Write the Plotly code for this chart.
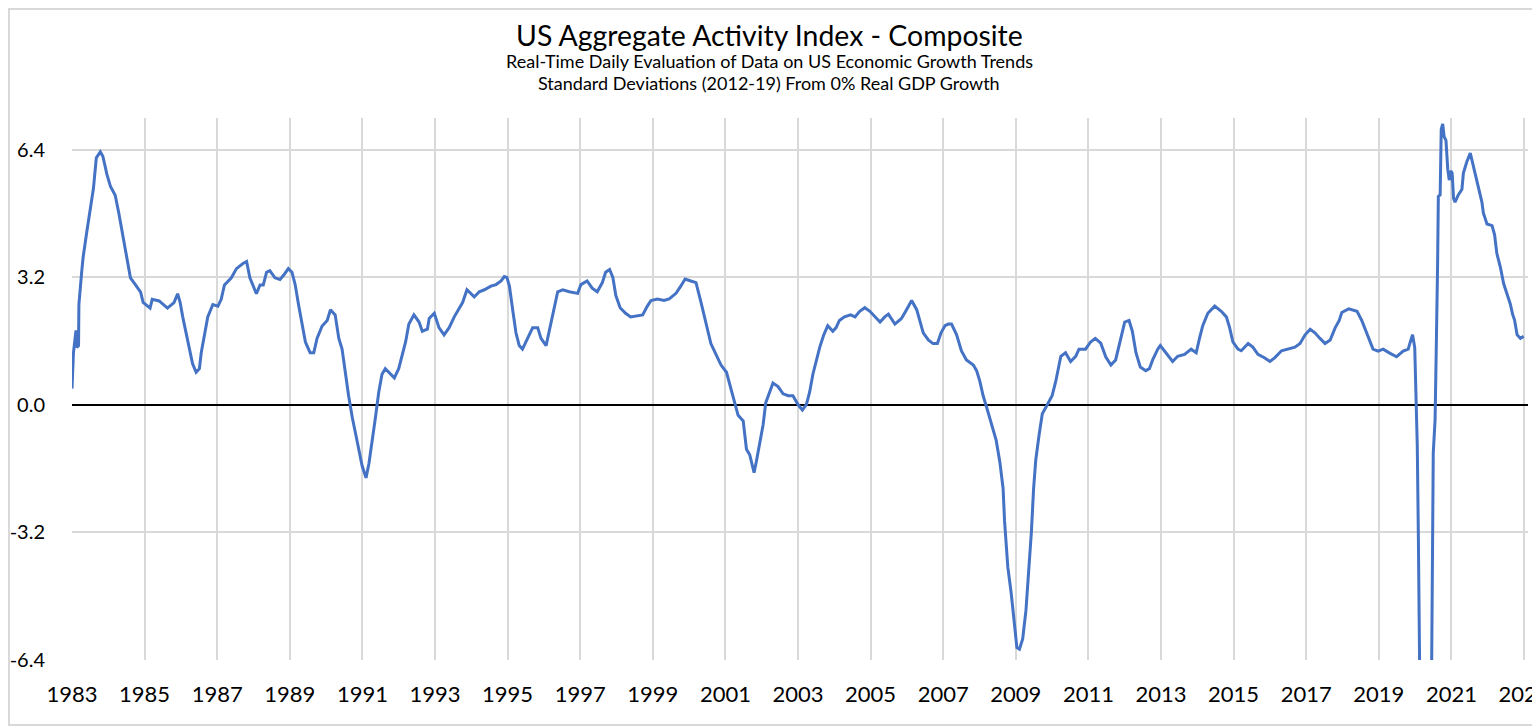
import plotly.graph_objects as go

# ---------------- data ----------------
years = [
    1983.00, 1983.04, 1983.11, 1983.13, 1983.18, 1983.19, 1983.27, 1983.31, 1983.41, 1983.52,
    1983.59, 1983.67, 1983.78, 1983.85, 1983.96, 1984.06, 1984.19, 1984.29, 1984.38, 1984.47,
    1984.56, 1984.61, 1984.75, 1984.89, 1984.96, 1985.15, 1985.21, 1985.40, 1985.63, 1985.81,
    1985.91, 1985.98, 1986.05, 1986.14, 1986.23, 1986.32, 1986.42, 1986.51, 1986.56, 1986.65,
    1986.74, 1986.88, 1987.02, 1987.11, 1987.20, 1987.39, 1987.53, 1987.71, 1987.81, 1987.90,
    1987.99, 1988.08, 1988.18, 1988.27, 1988.36, 1988.45, 1988.59, 1988.73, 1988.85, 1988.96,
    1989.06, 1989.15, 1989.24, 1989.33, 1989.43, 1989.56, 1989.66, 1989.75, 1989.89, 1990.03,
    1990.12, 1990.25, 1990.35, 1990.44, 1990.53, 1990.62, 1990.72, 1990.81, 1990.90, 1990.99,
    1991.10, 1991.18, 1991.27, 1991.36, 1991.45, 1991.54, 1991.63, 1991.77, 1991.88, 1992.00,
    1992.09, 1992.19, 1992.28, 1992.42, 1992.56, 1992.65, 1992.79, 1992.84, 1992.98, 1993.11,
    1993.25, 1993.39, 1993.53, 1993.67, 1993.76, 1993.88, 1993.99, 1994.08, 1994.22, 1994.36,
    1994.54, 1994.68, 1994.82, 1994.91, 1994.98, 1995.05, 1995.14, 1995.23, 1995.32, 1995.41,
    1995.55, 1995.69, 1995.83, 1995.92, 1996.06, 1996.15, 1996.24, 1996.29, 1996.38, 1996.52,
    1996.70, 1996.93, 1997.02, 1997.19, 1997.33, 1997.47, 1997.61, 1997.70, 1997.81, 1997.90,
    1997.98, 1998.10, 1998.25, 1998.39, 1998.58, 1998.72, 1998.85, 1998.95, 1999.13, 1999.31,
    1999.45, 1999.64, 1999.77, 1999.89, 2000.05, 2000.19, 2000.33, 2000.47, 2000.60, 2000.74,
    2000.88, 2001.03, 2001.12, 2001.21, 2001.35, 2001.49, 2001.58, 2001.67, 2001.74, 2001.79,
    2001.85, 2001.94, 2002.04, 2002.11, 2002.22, 2002.31, 2002.45, 2002.59, 2002.73, 2002.86,
    2003.00, 2003.12, 2003.23, 2003.32, 2003.41, 2003.50, 2003.60, 2003.71, 2003.82, 2003.96,
    2004.05, 2004.14, 2004.28, 2004.45, 2004.57, 2004.70, 2004.84, 2004.98, 2005.12, 2005.26,
    2005.39, 2005.49, 2005.67, 2005.85, 2005.99, 2006.13, 2006.27, 2006.36, 2006.45, 2006.59,
    2006.72, 2006.84, 2006.94, 2007.05, 2007.14, 2007.23, 2007.37, 2007.50, 2007.64, 2007.83,
    2007.92, 2008.01, 2008.10, 2008.19, 2008.28, 2008.37, 2008.46, 2008.56, 2008.65, 2008.69,
    2008.74, 2008.78, 2008.87, 2008.92, 2008.96, 2009.03, 2009.10, 2009.19, 2009.28, 2009.37,
    2009.43, 2009.49, 2009.55, 2009.64, 2009.73, 2009.87, 2010.00, 2010.10, 2010.19, 2010.24,
    2010.37, 2010.51, 2010.65, 2010.74, 2010.92, 2011.06, 2011.19, 2011.34, 2011.48, 2011.62,
    2011.75, 2011.89, 2012.00, 2012.12, 2012.21, 2012.31, 2012.43, 2012.58, 2012.68, 2012.77,
    2012.91, 2012.98, 2013.09, 2013.23, 2013.32, 2013.46, 2013.65, 2013.83, 2013.97, 2014.06,
    2014.15, 2014.29, 2014.48, 2014.66, 2014.80, 2014.89, 2014.98, 2015.12, 2015.21, 2015.40,
    2015.53, 2015.67, 2015.86, 2016.00, 2016.13, 2016.32, 2016.50, 2016.69, 2016.83, 2016.97,
    2017.11, 2017.24, 2017.38, 2017.52, 2017.66, 2017.80, 2017.91, 2017.98, 2018.17, 2018.40,
    2018.53, 2018.67, 2018.84, 2018.98, 2019.12, 2019.30, 2019.49, 2019.67, 2019.81, 2019.88,
    2019.93, 2019.99, 2020.02, 2020.06, 2020.09, 2020.31, 2020.50, 2020.55, 2020.58, 2020.60,
    2020.62, 2020.64, 2020.69, 2020.72, 2020.76, 2020.80, 2020.85, 2020.90, 2020.94, 2020.98,
    2021.02, 2021.06, 2021.10, 2021.19, 2021.29, 2021.33, 2021.42, 2021.52, 2021.58, 2021.65,
    2021.75, 2021.84, 2021.88, 2021.98, 2022.12, 2022.19, 2022.25, 2022.35, 2022.44, 2022.53,
    2022.62, 2022.69, 2022.74, 2022.81, 2022.90, 2022.99,
]
values = [
    0.41, 1.31, 1.87, 1.44, 1.49, 2.52, 3.37, 3.73, 4.36, 5.03,
    5.43, 6.20, 6.35, 6.24, 5.79, 5.48, 5.26, 4.81, 4.36, 3.91,
    3.51, 3.19, 3.01, 2.83, 2.57, 2.43, 2.65, 2.61, 2.43, 2.57,
    2.79, 2.57, 2.21, 1.80, 1.44, 1.04, 0.82, 0.91, 1.31, 1.76,
    2.21, 2.52, 2.48, 2.65, 3.01, 3.19, 3.42, 3.55, 3.60, 3.19,
    2.97, 2.79, 3.01, 3.01, 3.33, 3.37, 3.19, 3.15, 3.28, 3.42,
    3.33, 3.01, 2.52, 2.07, 1.58, 1.31, 1.31, 1.67, 1.98, 2.12,
    2.39, 2.26, 1.67, 1.40, 0.77, 0.23, -0.31, -0.76, -1.11, -1.52,
    -1.83, -1.47, -0.93, -0.31, 0.32, 0.77, 0.91, 0.77, 0.68, 0.91,
    1.22, 1.58, 2.03, 2.26, 2.08, 1.85, 1.90, 2.17, 2.30, 1.94,
    1.76, 1.94, 2.21, 2.44, 2.57, 2.89, 2.80, 2.71, 2.84, 2.89,
    2.98, 3.02, 3.11, 3.22, 3.20, 2.98, 2.39, 1.81, 1.49, 1.40,
    1.67, 1.94, 1.94, 1.67, 1.49, 1.85, 2.21, 2.48, 2.84, 2.89,
    2.84, 2.80, 3.02, 3.11, 2.93, 2.84, 3.07, 3.33, 3.40, 3.20,
    2.75, 2.44, 2.30, 2.21, 2.23, 2.26, 2.48, 2.62, 2.66, 2.62,
    2.66, 2.80, 2.98, 3.16, 3.11, 3.07, 2.57, 2.03, 1.54, 1.27,
    1.00, 0.82, 0.50, 0.19, -0.26, -0.40, -1.11, -1.25, -1.56, -1.70,
    -1.43, -1.02, -0.49, 0.05, 0.32, 0.55, 0.46, 0.28, 0.23, 0.23,
    0.01, -0.13, 0.01, 0.32, 0.77, 1.13, 1.45, 1.76, 1.99, 1.85,
    1.94, 2.12, 2.21, 2.26, 2.21, 2.35, 2.44, 2.35, 2.21, 2.08,
    2.21, 2.28, 2.03, 2.17, 2.39, 2.62, 2.39, 2.12, 1.81, 1.63,
    1.54, 1.54, 1.81, 1.99, 2.03, 2.03, 1.76, 1.36, 1.13, 1.00,
    0.86, 0.59, 0.23, -0.04, -0.31, -0.57, -0.89, -1.43, -2.10, -2.91,
    -3.45, -4.07, -4.70, -5.15, -5.60, -6.09, -6.13, -5.87, -5.15, -4.07,
    -3.18, -2.10, -1.38, -0.76, -0.22, 0.01, 0.23, 0.59, 0.95, 1.22,
    1.31, 1.09, 1.22, 1.40, 1.40, 1.58, 1.67, 1.55, 1.20, 1.00,
    1.13, 1.67, 2.08, 2.12, 1.85, 1.31, 0.95, 0.86, 0.91, 1.13,
    1.40, 1.49, 1.36, 1.18, 1.09, 1.22, 1.27, 1.40, 1.31, 1.67,
    1.99, 2.30, 2.48, 2.35, 2.21, 1.94, 1.58, 1.40, 1.36, 1.54,
    1.45, 1.27, 1.18, 1.09, 1.18, 1.36, 1.40, 1.45, 1.54, 1.76,
    1.90, 1.81, 1.67, 1.54, 1.63, 1.94, 2.12, 2.32, 2.41, 2.35,
    2.12, 1.81, 1.40, 1.35, 1.40, 1.30, 1.21, 1.35, 1.40, 1.62,
    1.76, 1.44, 0.35, -1.02, -3.30, -24.0, -1.20, -0.38, 1.26, 2.17,
    3.54, 5.23, 5.27, 6.92, 7.05, 6.73, 6.64, 5.91, 5.64, 5.87,
    5.82, 5.18, 5.09, 5.27, 5.41, 5.82, 6.09, 6.32, 6.09, 5.82,
    5.50, 5.09, 4.82, 4.54, 4.50, 4.27, 3.81, 3.45, 3.04, 2.81,
    2.54, 2.26, 2.13, 1.76, 1.67, 1.72,
]

x_ticks = list(range(1983, 2024, 2))
x_tick_labels = [str(y) for y in x_ticks]
y_ticks = [-6.4, -3.2, 0.0, 3.2, 6.4]
y_tick_labels = ["-6.4", "-3.2", "0.0", "3.2", "6.4"]

title_text = "US Aggregate Activity Index - Composite"
subtitle_1 = "Real-Time Daily Evaluation of Data on US Economic Growth Trends"
subtitle_2 = "Standard Deviations (2012-19) From 0% Real GDP Growth"

# ---------------- layout constants ----------------
# the page adds an 8px body margin, so the figure is drawn 8px in from the top-left
OFF = 8
W, H = 1540 - OFF, 726 - OFF
ML, MR, MT, MB = 72 - OFF, 12, 118 - OFF, 66
Y_MIN, Y_MAX = -6.4, 7.2
X_MIN, X_MAX = 1983.0, 2023.11
FONT = "Lato, 'Open Sans', sans-serif"
LINE_BLUE = "#4472C4"
GRID = "#d9d9d9"

plot_w = W - ML - MR
plot_h = H - MT - MB


def py(screen_y):
    """screen y (page pixels from top) -> paper y"""
    return (H - MB - (screen_y - OFF)) / plot_h


def px(screen_x):
    """screen x (page pixels from left) -> paper x"""
    return (screen_x - OFF - ML) / plot_w


fig = go.Figure()
fig.add_trace(go.Scatter(
    x=years, y=values, mode="lines",
    line=dict(color=LINE_BLUE, width=3),
    hoverinfo="x+y", showlegend=False,
))

zero_pos = (0 - Y_MIN) / (Y_MAX - Y_MIN)

fig.update_layout(
    width=W, height=H,
    margin=dict(l=ML, r=MR, t=MT, b=MB, pad=0, autoexpand=False),
    paper_bgcolor="white", plot_bgcolor="white",
    font=dict(family=FONT, color="black"),
    showlegend=False,
    xaxis=dict(
        range=[X_MIN, X_MAX], tickmode="array", tickvals=x_ticks, ticktext=x_tick_labels,
        showgrid=True, gridcolor=GRID, gridwidth=2,
        zeroline=False, showline=False, ticks="",
        tickfont=dict(family=FONT, size=22, color="black"),
        ticklabelstandoff=19, automargin=False, ticklabeloverflow="allow",
    ),
    xaxis2=dict(
        overlaying="x", anchor="free", position=zero_pos,
        range=[X_MIN, X_MAX], tickmode="array", tickvals=x_ticks,
        showticklabels=False, showgrid=False, zeroline=False,
        showline=True, linecolor="black", linewidth=2,
        ticks="outside", ticklen=6, tickwidth=2, tickcolor="black",
        automargin=False,
    ),
    yaxis=dict(
        range=[Y_MIN, Y_MAX], tickmode="array", tickvals=y_ticks, ticktext=y_tick_labels,
        showgrid=True, gridcolor=GRID, gridwidth=2,
        zeroline=True, zerolinecolor="black", zerolinewidth=2,
        showline=False, ticks="",
        tickfont=dict(family=FONT, size=20, color="black"),
        ticklabelstandoff=26, automargin=False,
    ),
    annotations=[
        dict(text=title_text, xref="paper", yref="paper", x=px(769), y=py(35),
             xanchor="center", yanchor="middle", showarrow=False,
             font=dict(family=FONT, size=28.4, color="black")),
        dict(text=subtitle_1, xref="paper", yref="paper", x=px(769), y=py(61),
             xanchor="center", yanchor="middle", showarrow=False,
             font=dict(family=FONT, size=18, color="black")),
        dict(text=subtitle_2, xref="paper", yref="paper", x=px(769), y=py(83),
             xanchor="center", yanchor="middle", showarrow=False,
             font=dict(family=FONT, size=18, color="black")),
    ],
    shapes=[
        dict(type="rect", xref="paper", yref="paper",
             x0=-(ML - 1) / plot_w, x1=1 + (MR - 1) / plot_w,
             y0=-(MB - 1) / plot_h, y1=1 + (MT - 1) / plot_h,
             line=dict(color=GRID, width=2), fillcolor="rgba(0,0,0,0)", layer="below"),
    ],
)

fig.write_html("out.html")
